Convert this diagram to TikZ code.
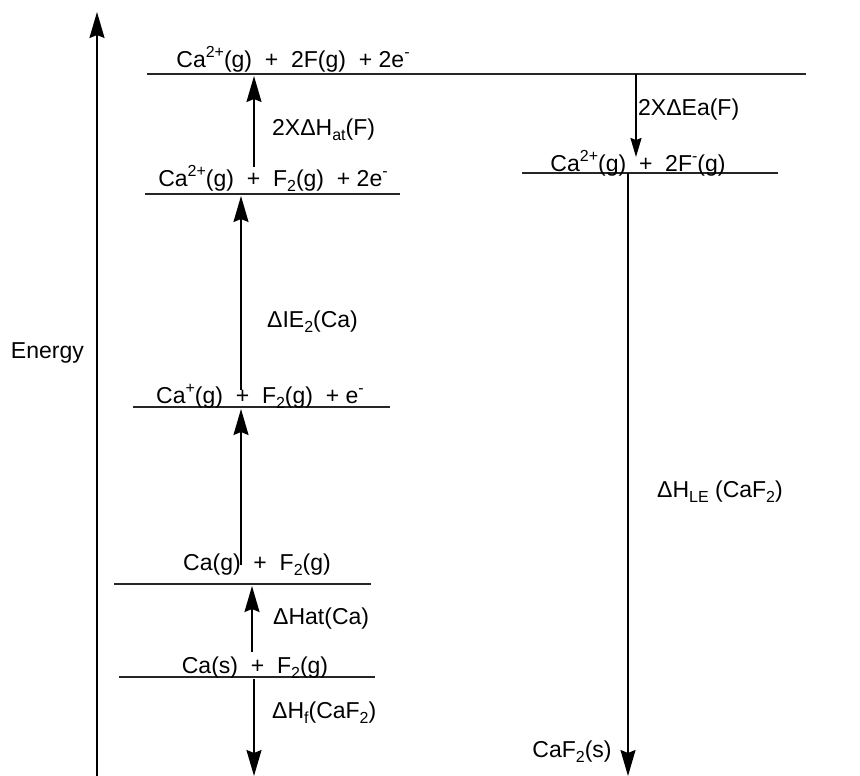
\documentclass[tikz,border=0pt]{standalone}
\usepackage{fontspec}
\setmainfont{Liberation Sans}
\usetikzlibrary{positioning,arrows.meta}
\newcommand{\cycsup}[1]{\raisebox{0.42em}{\fontsize{16}{16}\selectfont #1}}
\newcommand{\cycsub}[1]{\raisebox{-0.22em}{\fontsize{16}{16}\selectfont #1}}

\begin{document}
\begin{tikzpicture}[
    x=1pt, y=-1pt,
    cyclevel/.style={
      line width=1.5pt,
      black!85
    },
    cycarrow/.style={
      -{Stealth[length=26pt,width=15pt,inset=3pt]},
      line width=1.8pt
    },
    cycsmall/.style={
      -{Stealth[length=19pt,width=11pt,inset=2pt]},
      line width=1.8pt
    },
    cycspecies/.style={
      anchor=base,
      inner sep=0pt,
      font=\fontsize{23}{26}\selectfont
    },
    cyclabel/.style={
      anchor=west,
      inner sep=0pt,
      font=\fontsize{23}{26}\selectfont
    }
  ]
  \useasboundingbox (0,0) rectangle (860,776);

  % energy axis
  \coordinate (ebot) at (97,776);
  \coordinate (etop) at (97,12);
  \draw[cycarrow] (ebot) -- (etop);
  \node[cyclabel, anchor=east] (energy) at (84,353) {Energy};

  % levels
  \coordinate (l1w) at (147,74);  \coordinate (l1e) at (806,74);
  \coordinate (l2w) at (145,194); \coordinate (l2e) at (400,194);
  \coordinate (r2w) at (522,173); \coordinate (r2e) at (778,173);
  \coordinate (l3w) at (133,407); \coordinate (l3e) at (390,407);
  \coordinate (l4w) at (114,584); \coordinate (l4e) at (371,584);
  \coordinate (l5w) at (119,677); \coordinate (l5e) at (375,677);
  \draw[cyclevel] (l1w) -- (l1e);
  \draw[cyclevel] (l2w) -- (l2e);
  \draw[cyclevel] (r2w) -- (r2e);
  \draw[cyclevel] (l3w) -- (l3e);
  \draw[cyclevel] (l4w) -- (l4e);
  \draw[cyclevel] (l5w) -- (l5e);

  \node[cycspecies] (atoms) at (293,67) {Ca\cycsup{2+}(g)\ \ +\ \ 2F(g)\ \ + 2e\cycsup{-}};
  \node[cycspecies] (dication) at (273,186) {Ca\cycsup{2+}(g)\ \ +\ \ F\cycsub{2}(g)\ \ + 2e\cycsup{-}};
  \node[cycspecies] (ions) at (638,171) {Ca\cycsup{2+}(g)\ \ +\ \ 2F\cycsup{-}(g)};
  \node[cycspecies] (cation) at (260,403) {Ca\cycsup{+}(g)\ \ +\ \ F\cycsub{2}(g)\ \ + e\cycsup{-}};
  \node[cycspecies] (gas) at (257,570) {Ca(g)\ \ +\ \ F\cycsub{2}(g)};
  \node[cycspecies] (solid) at (255,673) {Ca(s)\ \ +\ \ F\cycsub{2}(g)};
  \node[cyclabel, anchor=center] (lattice) at (572,752) {CaF\cycsub{2}(s)};

  % steps
  \coordinate (hatF0) at (254,167); \coordinate (hatF1) at (254,76);
  \coordinate (ie20) at (241,390);  \coordinate (ie21) at (241,196);
  \coordinate (ie10) at (241,565);  \coordinate (ie11) at (241,409);
  \coordinate (hatCa0) at (252,652); \coordinate (hatCa1) at (252,586);
  \coordinate (hf0) at (254,679);   \coordinate (hf1) at (254,776);
  \coordinate (ea0) at (636,74);    \coordinate (ea1) at (636,157);
  \coordinate (le0) at (628,173);   \coordinate (le1) at (628,776);
  \draw[cycarrow] (hatF0) -- (hatF1);
  \draw[cycarrow] (ie20) -- (ie21);
  \draw[cycarrow] (ie10) -- (ie11);
  \draw[cycarrow] (hatCa0) -- (hatCa1);
  \draw[cycarrow] (hf0) -- (hf1);
  \draw[cycsmall] (ea0) -- (ea1);
  \draw[cycarrow] (le0) -- (le1);

  \node[cyclabel] (hatFtext) at (272,130) {2XΔH\cycsub{at}(F)};
  \node[cyclabel] (ie2text) at (267,322) {ΔIE\cycsub{2}(Ca)};
  \node[cyclabel] (hatCatext) at (273,619) {ΔHat(Ca)};
  \node[cyclabel] (hftext) at (272,713) {ΔH\cycsub{f}(CaF\cycsub{2})};
  \node[cyclabel] (eatext) at (638,110) {2XΔEa(F)};
  \node[cyclabel] (letext) at (657,492) {ΔH\cycsub{LE} (CaF\cycsub{2})};
\end{tikzpicture}
\end{document}
